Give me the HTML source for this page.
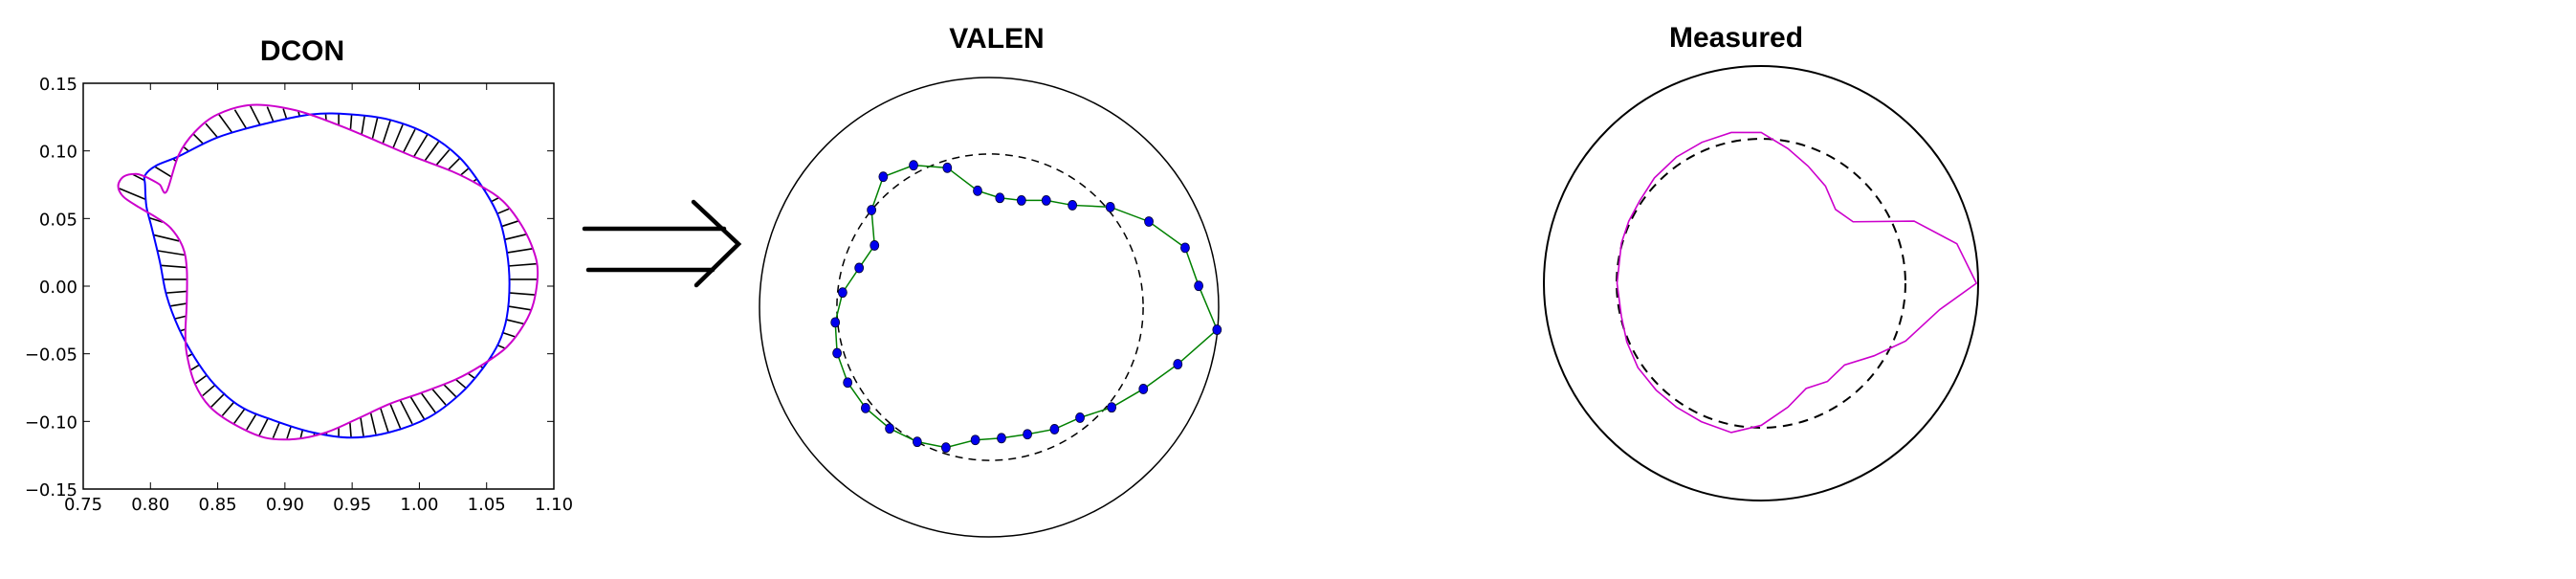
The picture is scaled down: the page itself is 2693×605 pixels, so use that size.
<!DOCTYPE html>
<html><head><meta charset="utf-8"><style>
html,body{margin:0;padding:0;background:#fff;overflow:hidden;}
svg{display:block;}
.t{font-family:"Liberation Sans",sans-serif;font-weight:bold;font-size:30px;}
.tick{font-family:"DejaVu Sans","Liberation Sans",sans-serif;font-size:18px;}
</style></head><body>
<svg id="c" width="2693" height="605" viewBox="0 0 2693 605" xmlns="http://www.w3.org/2000/svg">
<text class="t" x="316" y="63" text-anchor="middle">DCON</text>
<text class="t" x="1042" y="50" text-anchor="middle">VALEN</text>
<text class="t" x="1815" y="49" text-anchor="middle">Measured</text>
<g stroke="#000" stroke-width="4.5" fill="none" stroke-linecap="round">
<line x1="611" y1="239" x2="757" y2="239"/><line x1="615" y1="282" x2="745" y2="282"/>
<polyline points="725,211 772,255 728,298"/>
</g>
<g id="dcon"></g>
<g id="valen"></g>
<g id="meas"></g>
</svg>
<script>
const NS="http://www.w3.org/2000/svg";
// DCON data
const xTicks=[0.75,0.80,0.85,0.90,0.95,1.00,1.05,1.10];
const yTicks=[-0.15,-0.10,-0.05,0.00,0.05,0.10,0.15];
const xTickLabels=["0.75","0.80","0.85","0.90","0.95","1.00","1.05","1.10"];
const yTickLabels=["\u22120.15","\u22120.10","\u22120.05","0.00","0.05","0.10","0.15"];
const blueX=[0.796,0.804,0.821,0.850,0.885,0.920,0.949,0.978,1.007,1.030,1.047,1.059,1.065,1.067,1.065,1.059,1.047,1.030,1.007,0.978,0.949,0.920,0.891,0.867,0.847,0.833,0.821,0.812,0.807,0.801,0.797,0.796];
const blueY=[0.082,0.089,0.096,0.110,0.120,0.127,0.127,0.123,0.112,0.095,0.073,0.051,0.026,0.002,-0.023,-0.042,-0.061,-0.080,-0.097,-0.108,-0.112,-0.108,-0.099,-0.089,-0.072,-0.053,-0.031,-0.007,0.018,0.043,0.059,0.075];
const magX=[0.812,0.821,0.833,0.850,0.876,0.908,0.940,0.969,0.995,1.024,1.044,1.062,1.076,1.085,1.088,1.085,1.078,1.065,1.047,1.027,1.001,0.978,0.954,0.931,0.908,0.885,0.862,0.844,0.833,0.827,0.826,0.827,0.827,0.824,0.815,0.804,0.792,0.780,0.776,0.780,0.789,0.796,0.802,0.807];
const magY=[0.070,0.097,0.114,0.127,0.134,0.130,0.119,0.107,0.096,0.085,0.075,0.063,0.045,0.026,0.010,-0.012,-0.028,-0.045,-0.058,-0.069,-0.079,-0.087,-0.098,-0.108,-0.113,-0.112,-0.102,-0.089,-0.072,-0.050,-0.034,-0.012,0.013,0.029,0.043,0.051,0.058,0.066,0.074,0.081,0.083,0.081,0.078,0.075];
// VALEN data (normalized to outer boundary)
const valenX=[-0.461,-0.329,-0.182,-0.050,0.047,0.141,0.249,0.363,0.528,0.696,0.854,0.913,0.993,0.822,0.672,0.534,0.396,0.285,0.167,0.054,-0.060,-0.188,-0.313,-0.433,-0.538,-0.616,-0.662,-0.670,-0.638,-0.566,-0.499,-0.512];
const valenY=[0.568,0.618,0.607,0.507,0.476,0.465,0.465,0.444,0.436,0.373,0.259,0.093,-0.098,-0.248,-0.356,-0.436,-0.481,-0.531,-0.553,-0.570,-0.578,-0.611,-0.586,-0.528,-0.439,-0.328,-0.200,-0.066,0.064,0.171,0.269,0.423];
const valenDashR=0.667;
// Measured data
const measX=[-0.137,0.001,0.124,0.217,0.297,0.343,0.424,0.705,0.902,0.992,0.823,0.666,0.520,0.385,0.306,0.208,0.124,0.001,-0.137,-0.275,-0.390,-0.483,-0.567,-0.618,-0.643,-0.663,-0.643,-0.609,-0.559,-0.491,-0.390,-0.272];
const measY=[0.694,0.694,0.620,0.539,0.447,0.340,0.283,0.286,0.182,0.000,-0.121,-0.266,-0.334,-0.376,-0.452,-0.484,-0.570,-0.654,-0.687,-0.637,-0.570,-0.492,-0.388,-0.270,-0.152,0.000,0.185,0.286,0.379,0.485,0.581,0.649];
const measDashR=0.665;

function mk(p,tag,a){const e=document.createElementNS(NS,tag);for(const k in a)e.setAttribute(k,a[k]);p.appendChild(e);return e;}
// DCON axes
const L=87,R=579,T=87,B=511;
const sx=v=>L+(v-0.75)/0.35*(R-L);
const sy=v=>B-(v+0.15)/0.30*(B-T);
const dg=document.getElementById('dcon');
function smooth(xs,ys){const n=xs.length;let d='';
 for(let i=0;i<n;i++){const p0=[xs[(i-1+n)%n],ys[(i-1+n)%n]],p1=[xs[i],ys[i]],p2=[xs[(i+1)%n],ys[(i+1)%n]],p3=[xs[(i+2)%n],ys[(i+2)%n]];
 if(i===0)d+='M'+p1[0]+','+p1[1];
 d+=' C'+(p1[0]+(p2[0]-p0[0])/6)+','+(p1[1]+(p2[1]-p0[1])/6)+' '+(p2[0]-(p3[0]-p1[0])/6)+','+(p2[1]-(p3[1]-p1[1])/6)+' '+p2[0]+','+p2[1];}
 return d+'Z';}
function rayHit(xs,ys,cx,cy,th,far){const dx=Math.cos(th),dy=Math.sin(th);let best=null;const n=xs.length;
 for(let i=0;i<n;i++){const ax=xs[i]-cx,ay=ys[i]-cy,bx=xs[(i+1)%n]-cx,by=ys[(i+1)%n]-cy;
  const ex=bx-ax,ey=by-ay;const den=dx*ey-dy*ex;if(Math.abs(den)<1e-12)continue;
  const t=(ax*ey-ay*ex)/den,u=(ax*dy-ay*dx)/den;
  if(t>0&&u>=0&&u<=1){if(best===null||(far?t>best:t<best))best=t;}}
 return best;}
const bpx=blueX.map(sx),bpy=blueY.map(sy),mpx=magX.map(sx),mpy=magY.map(sy);
const hc=[sx(0.94),sy(0.005)];
for(let k=0;k<80;k++){const th=k/80*2*Math.PI;
 const rb=rayHit(bpx,bpy,hc[0],hc[1],th,false),rm=rayHit(mpx,mpy,hc[0],hc[1],th,true);
 if(rb&&rm){const h=mk(dg,'line',{x1:hc[0]+rb*Math.cos(th),y1:hc[1]+rb*Math.sin(th),x2:hc[0]+rm*Math.cos(th),y2:hc[1]+rm*Math.sin(th),stroke:'#000','stroke-width':1.6});
 
 }}
const bl=mk(dg,'path',{d:smooth(bpx,bpy),fill:'none',stroke:'#0000ff','stroke-width':2});


const mg=mk(dg,'path',{d:smooth(mpx,mpy),fill:'none',stroke:'#cc00cc','stroke-width':2});


const fr=mk(dg,'rect',{x:L,y:T,width:R-L,height:B-T,fill:'none',stroke:'#000','stroke-width':1.5});


xTicks.forEach((v,i)=>{const x=sx(v);
 mk(dg,'line',{x1:x,y1:B,x2:x,y2:B-7,stroke:'#000','stroke-width':1});mk(dg,'line',{x1:x,y1:T,x2:x,y2:T+7,stroke:'#000','stroke-width':1});
 const t=mk(dg,'text',{x:x,y:B+22,'text-anchor':'middle',class:'tick'});t.textContent=xTickLabels[i];
 
 });
yTicks.forEach((v,i)=>{const y=sy(v);
 mk(dg,'line',{x1:L,y1:y,x2:L+7,y2:y,stroke:'#000','stroke-width':1});mk(dg,'line',{x1:R,y1:y,x2:R-7,y2:y,stroke:'#000','stroke-width':1});
 const t=mk(dg,'text',{x:L-6,y:y+7,'text-anchor':'end',class:'tick'});t.textContent=yTickLabels[i];
 
 });
// VALEN
const vg=document.getElementById('valen');const vcx=1034,vcy=321,vrx=240,vry=240;
const vo=mk(vg,'ellipse',{cx:vcx,cy:vcy,rx:vrx,ry:vry,fill:'none',stroke:'#000','stroke-width':1.5});


const vd=mk(vg,'ellipse',{cx:vcx+1,cy:vcy,rx:valenDashR*vrx,ry:valenDashR*vry,fill:'none',stroke:'#000','stroke-width':1.5,'stroke-dasharray':'8,6'});


const vpts=valenX.map((v,i)=>[vcx+v*vrx,vcy-valenY[i]*vry]);
const vl=mk(vg,'polygon',{points:vpts.map(p=>p.join(',')).join(' '),fill:'none',stroke:'#008000','stroke-width':1.5});


vpts.forEach(p=>{const c=mk(vg,'ellipse',{cx:p[0],cy:p[1],rx:4.5,ry:5,fill:'#0000ee',stroke:'#000033','stroke-width':0.8});
 
 });
// Measured
const mgp=document.getElementById('meas');const mcx=1841,mcy=296,mr=227;
const mo=mk(mgp,'circle',{cx:mcx,cy:mcy,r:mr,fill:'none',stroke:'#000','stroke-width':2});


const md=mk(mgp,'circle',{cx:mcx,cy:mcy,r:measDashR*mr,fill:'none',stroke:'#000','stroke-width':2,'stroke-dasharray':'10,7'});


const ml=mk(mgp,'polygon',{points:measX.map((v,i)=>(mcx+v*mr)+','+(mcy-measY[i]*mr)).join(' '),fill:'none',stroke:'#cc00cc','stroke-width':1.6});


</script>
</body></html>
